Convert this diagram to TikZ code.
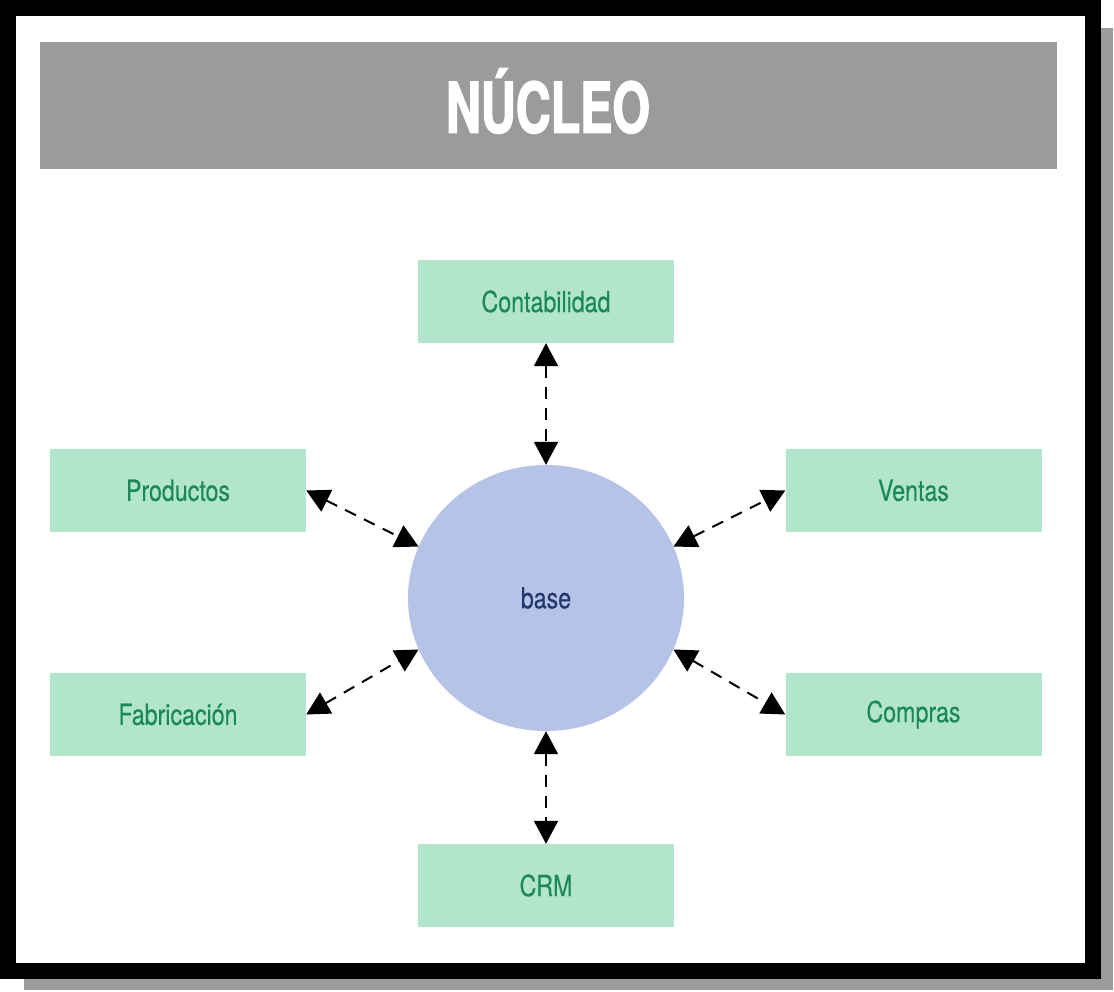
\documentclass[tikz,border=0pt]{standalone}
\usepackage{fontspec}
\setmainfont{TeX Gyre Heros}
\newfontfamily\titlefont[FakeStretch=0.69,FakeBold=1.8]{TeX Gyre Heros Bold}
\newfontfamily\boxfont[FakeStretch=0.8,FakeBold=0.3]{TeX Gyre Heros}
\usetikzlibrary{arrows.meta,shapes.geometric}

\definecolor{bandgray}{HTML}{9C9A9A}
\definecolor{modfill}{HTML}{B3E4CC}
\definecolor{modtext}{HTML}{1A8A55}
\definecolor{corefill}{HTML}{B4C3E6}
\definecolor{coretext}{HTML}{23376E}

\tikzset{
  modbox/.style={fill=modfill, text=modtext, minimum width=256pt, minimum height=83pt,
    inner sep=0pt, font=\boxfont\fontsize{29}{32}\selectfont},
  link/.style={dashed, dash pattern=on 12pt off 9pt, line width=2pt,
    {Triangle[width=24pt,length=23pt]}-{Triangle[width=24pt,length=23pt]}}
}

\begin{document}
\begin{tikzpicture}[x=1pt, y=-1pt]
    \useasboundingbox (0,0) rectangle (1114,992);

    % frame with shadow
    \fill[bandgray] (24,28) rectangle (1113,990);
    \fill[black] (0,0) rectangle (1101,979);
    \fill[white] (16,16) rectangle (1085,963);

    % title band
    \fill[bandgray] (40,42) rectangle (1057,169);
    \node[text=white, font=\titlefont\fontsize{70}{72}\selectfont] (title) at (548,101) {NÚCLEO};

    % core
    \node[ellipse, fill=corefill, text=coretext, minimum width=276pt, minimum height=266pt,
      inner sep=0pt, font=\boxfont\fontsize{29}{32}\selectfont] (base) at (546,598) {base};

    % modules
    \node[modbox] (cont) at (546,301.5) {Contabilidad};
    \node[modbox] (prod) at (178,490.5) {Productos};
    \node[modbox] (vent) at (913.5,490.5) {Ventas};
    \node[modbox] (fabr) at (178,714.5) {Fabricación};
    \node[modbox] (comp) at (913.5,714.5) {Compras};
    \node[modbox] (crm) at (546,885.5) {CRM};

    \draw[link] (cont.south) -- (base.north);
    \draw[link] (prod.east) -- (base.158);
    \draw[link] (base.22) -- (vent.west);
    \draw[link] (fabr.east) -- (base.202);
    \draw[link] (base.-22) -- (comp.west);
    \draw[link] (base.south) -- (crm.north);
\end{tikzpicture}
\end{document}
